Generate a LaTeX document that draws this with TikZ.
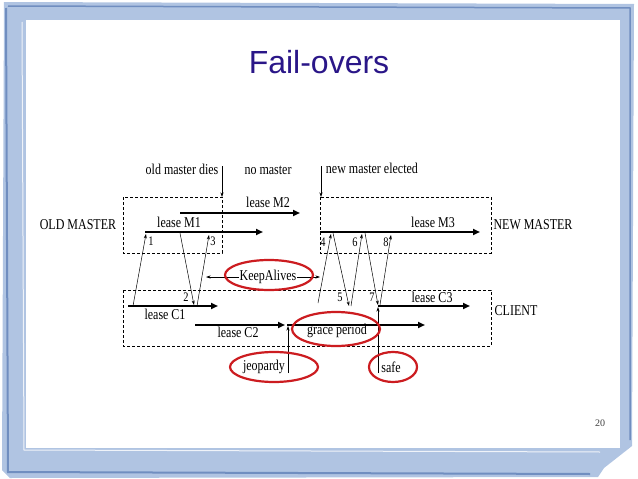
\documentclass[tikz,border=0pt]{standalone}
\usepackage{fontspec}
\setmainfont{Liberation Serif}
\newfontfamily\titlefont{Liberation Sans}
\usetikzlibrary{arrows.meta}
\definecolor{slidebg}{RGB}{176,196,226}
\definecolor{slideedge}{RGB}{112,142,192}
\definecolor{titleblue}{RGB}{42,22,136}
\definecolor{ringred}{RGB}{204,28,32}
\tikzset{
  lease/.style={line width=2.4pt,-{Triangle[length=7pt,width=6pt]}},
  msg/.style={line width=0.5pt,-{Stealth[length=4.5pt,width=3pt]}},
  timebox/.style={line width=0.7pt,dash pattern=on 3pt off 2pt},
  lbl/.style={font=\fontsize{15}{17}\selectfont,inner sep=1pt,transform shape,xscale=0.8},
  num/.style={font=\fontsize{13}{15}\selectfont,inner sep=0.5pt,transform shape,xscale=0.8},
  redring/.style={draw=ringred,line width=2.2pt}
}
\begin{document}
\begin{tikzpicture}[x=1pt,y=-1pt]
  \useasboundingbox (0,0) rectangle (638,479);
  % Slide frame
  \fill[slidebg] (4,2) -- (634,4) -- (632,446) -- (604,468) -- (598,477) -- (10,478) -- (2,470) -- cycle;
  \fill[white] (26,20) rectangle (620,448);
  \draw[slideedge,line width=2pt] (6,8) -- (8,472) -- (590,474);
  \draw[slideedge,line width=1.5pt] (8,6) -- (630,8) -- (630,440);
  \draw[white!80!slidebg,line width=1pt] (22,22) -- (24,450) -- (600,452);
  \node[font=\titlefont\fontsize{32}{36}\selectfont,text=titleblue] (title) at (319,62) {Fail-overs};
  \node[font=\fontsize{10}{12}\selectfont,text=black!75] (page) at (600,423) {20};
  % Boxes
  \draw[timebox] (123,197) rectangle (222,253);
  \draw[timebox] (320,197) rectangle (491,253);
  \draw[timebox] (123,290) rectangle (491,346);
  \node[lbl] (old) at (78,225) {OLD MASTER};
  \node[lbl] (new) at (533,225) {NEW MASTER};
  \node[lbl] (client) at (516,311) {CLIENT};
  % Events
  \node[lbl] (dies) at (182,169) {old master dies};
  \node[lbl] (nomaster) at (268,170) {no master};
  \node[lbl,anchor=west] (elected) at (325,168) {new master elected};
  \coordinate (diesa) at (222,166);
  \coordinate (diesb) at (222,197);
  \coordinate (eleca) at (321,166);
  \coordinate (elecb) at (321,197);
  \draw[msg] (diesa) -- (diesb);
  \draw[msg] (eleca) -- (elecb);
  % Leases
  \coordinate (m1s) at (145,232); \coordinate (m1e) at (263,232);
  \coordinate (m2s) at (180,213); \coordinate (m2e) at (300,213);
  \coordinate (m3s) at (320,232); \coordinate (m3e) at (480,232);
  \coordinate (c1s) at (128,306); \coordinate (c1e) at (218,306);
  \coordinate (c2s) at (195,325); \coordinate (c2e) at (285,325);
  \coordinate (gps) at (287,325); \coordinate (gpe) at (425,325);
  \coordinate (c3s) at (378,306); \coordinate (c3e) at (470,306);
  \draw[lease] (m1s) -- (m1e);
  \draw[lease] (m2s) -- (m2e);
  \draw[lease] (m3s) -- (m3e);
  \draw[lease] (c1s) -- (c1e);
  \draw[lease] (c2s) -- (c2e);
  \draw[lease] (gps) -- (gpe);
  \draw[lease] (c3s) -- (c3e);
  \node[lbl] (lm1) at (179,222) {lease M1};
  \node[lbl] (lm2) at (268,202) {lease M2};
  \node[lbl] (lm3) at (433,222) {lease M3};
  \node[lbl] (lc1) at (165,314) {lease C1};
  \node[lbl] (lc2) at (238,332) {lease C2};
  \node[lbl] (grace) at (337,331) {grace period};
  \node[lbl] (lc3) at (432,297) {lease C3};
  % Messages
  \coordinate (s1) at (133,306); \coordinate (t1) at (146,234);
  \coordinate (s2) at (180,233); \coordinate (t2) at (194,305);
  \coordinate (s3) at (197,306); \coordinate (t3) at (209,235);
  \coordinate (s4) at (318,303); \coordinate (t4) at (331,234);
  \coordinate (s5) at (333,233); \coordinate (t5) at (349,306);
  \coordinate (s6) at (351,306); \coordinate (t6) at (362,234);
  \coordinate (s7) at (365,233); \coordinate (t7) at (378,305);
  \coordinate (s8) at (380,305); \coordinate (t8) at (391,235);
  \foreach \k in {1,...,8} \draw[msg] (s\k) -- (t\k);
  \node[num] (n1) at (151,241) {1};
  \node[num] (n2) at (186,297) {2};
  \node[num] (n3) at (213,241) {3};
  \node[num] (n4) at (323,242) {4};
  \node[num] (n5) at (340,297) {5};
  \node[num] (n6) at (355,242) {6};
  \node[num] (n7) at (372,297) {7};
  \node[num] (n8) at (386,242) {8};
  % KeepAlives
  \node[lbl,fill=white] (ka) at (268,277) {KeepAlives};
  \coordinate (kal) at (206,277);
  \coordinate (kar) at (320,277);
  \draw[msg] (ka) -- (kal);
  \draw[msg] (ka) -- (kar);
  % Jeopardy and safe
  \node[lbl] (jeo) at (264,367) {jeopardy};
  \node[lbl] (safe) at (391,367) {safe};
  \coordinate (jeob) at (288,373); \coordinate (jeot) at (288,326);
  \coordinate (safeb) at (378,373); \coordinate (safet) at (378,307);
  \draw[msg] (jeob) -- (jeot);
  \draw[msg] (safeb) -- (safet);
  % Red marks
  \draw[redring] (269,275) ellipse[x radius=44pt,y radius=15pt];
  \draw[redring] (336,329) ellipse[x radius=44pt,y radius=17pt];
  \draw[redring] (274,367) ellipse[x radius=44pt,y radius=15pt];
  \draw[redring] (393,367) ellipse[x radius=24pt,y radius=15pt];
\end{tikzpicture}
\end{document}
